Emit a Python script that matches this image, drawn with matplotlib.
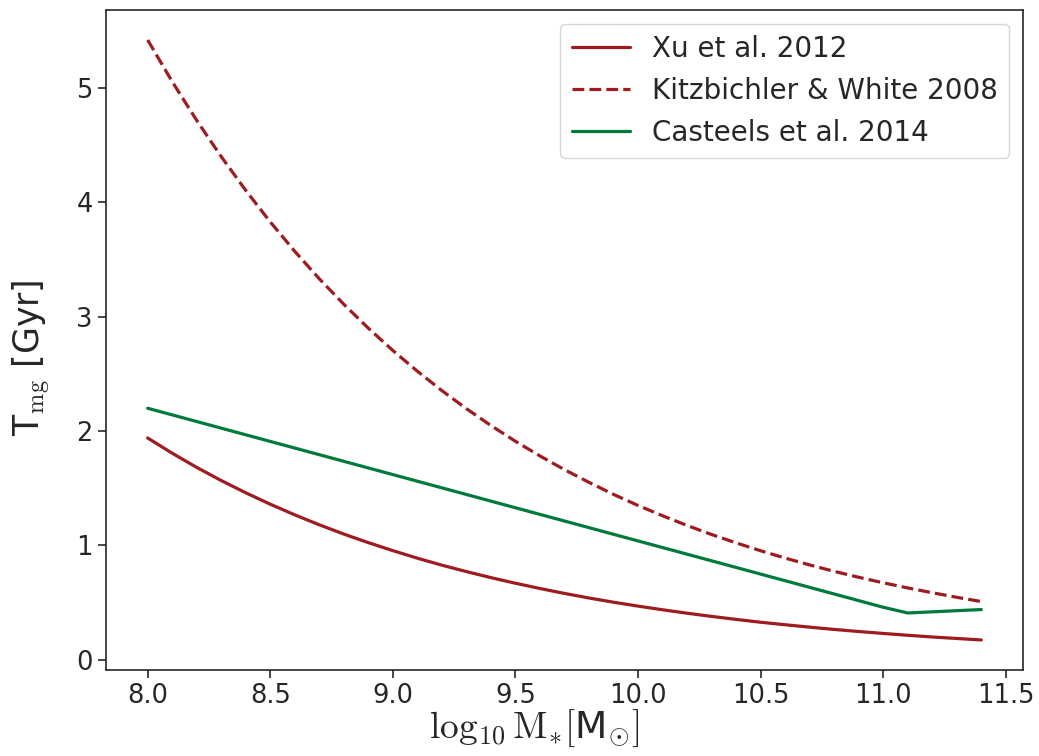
import matplotlib
matplotlib.use('Agg')
import matplotlib.pyplot as plt
import seaborn as sns
import numpy as np

# values (log10 stellar mass vs merger timescale in Gyr)
mass = [8.0, 8.1, 8.2, 8.3, 8.4, 8.5, 8.6, 8.7, 8.8, 8.9,
        9.0, 9.1, 9.2, 9.3, 9.4, 9.5, 9.6, 9.7, 9.8, 9.9,
        10.0, 10.1, 10.2, 10.3, 10.4, 10.5, 10.6, 10.7, 10.8, 10.9,
        11.0, 11.1, 11.2, 11.3, 11.4]
t_xu = [1.940, 1.807, 1.683, 1.568, 1.461, 1.361, 1.268, 1.181, 1.100, 1.025,
        0.955, 0.889, 0.828, 0.772, 0.719, 0.670, 0.624, 0.581, 0.541, 0.504,
        0.470, 0.438, 0.408, 0.380, 0.354, 0.329, 0.307, 0.286, 0.266, 0.248,
        0.231, 0.215, 0.200, 0.187, 0.174]
t_kw = [5.420, 5.056, 4.717, 4.400, 4.105, 3.829, 3.572, 3.332, 3.109, 2.900,
        2.705, 2.524, 2.354, 2.196, 2.049, 1.911, 1.783, 1.663, 1.552, 1.447,
        1.350, 1.260, 1.175, 1.096, 1.023, 0.954, 0.890, 0.830, 0.774, 0.722,
        0.674, 0.629, 0.587, 0.547, 0.510]
mass_cas = [8.0, 11.0, 11.1, 11.4]
t_cas = [2.20, 0.46, 0.41, 0.44]

red = '#9e1b1f'
green = '#007a3b'

sns.set_style('ticks')
plt.rcParams['mathtext.fontset'] = 'cm'
plt.rcParams['font.family'] = ['DejaVu Sans']

fig, ax = plt.subplots(figsize=(10.39, 7.56), dpi=100)
fig.subplots_adjust(left=0.102, right=0.9846, top=0.9868, bottom=0.1138)

ax.plot(mass, t_xu, color=red, lw=2.3, label='Xu et al. 2012')
ax.plot(mass, t_kw, color=red, lw=2.3, ls='--', label='Kitzbichler & White 2008')
ax.plot(mass_cas, t_cas, color=green, lw=2.3, label='Casteels et al. 2014')

ax.set_xticks(np.arange(8.0, 11.51, 0.5))
ax.tick_params(labelsize=18.5, length=6, width=1.2)
for s in ax.spines.values():
    s.set_linewidth(1.2)

ax.set_xlabel(r'$\log_{10}\mathrm{M}_{*}[$M$_{\odot}]$', fontsize=27, labelpad=-1)
ax.xaxis.label.set_x(0.467)
ax.set_ylabel(r'T$_{\mathrm{mg}}$ [Gyr]', fontsize=25, labelpad=17)
ax.yaxis.label.set_y(0.473)

ax.legend(loc='upper right', fontsize=20, handlelength=2.1)

fig.savefig('out.png', dpi=100)
